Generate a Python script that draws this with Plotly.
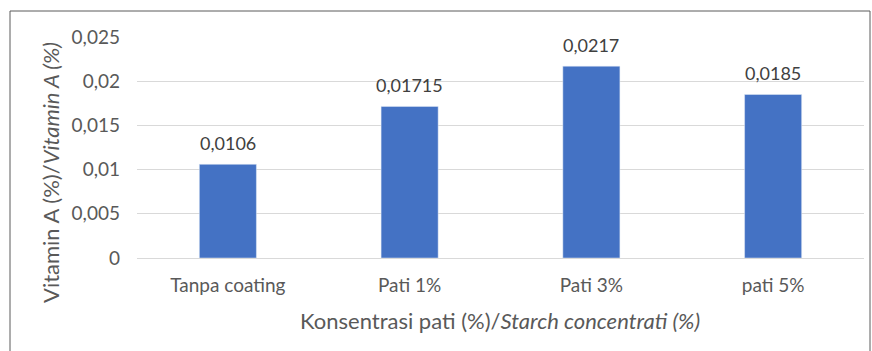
import plotly.graph_objects as go

categories = ["Tanpa coating", "Pati 1%", "Pati 3%", "pati 5%"]
vitamin_a = [0.0106, 0.01715, 0.0217, 0.0185]
tick_vals = [0, 0.005, 0.01, 0.015, 0.02, 0.025]
tick_text = ["0", "0,005", "0,01", "0,015", "0,02", "0,025"]
value_labels = [str(v).replace(".", ",") for v in vitamin_a]

W, H = 872, 351
ML, MR, MT, MB = 137, 8, 37, 93
pw = W - ML - MR
ph = H - MT - MB

def px_x(p):
    return (p - ML) / pw

def px_y(p):
    return (H - MB - p) / ph

font_family = "Lato, sans-serif"
grey = "#595959"

fig = go.Figure(
    go.Bar(
        x=categories,
        y=vitamin_a,
        marker=dict(color="#4472C4"),
        hoverinfo="x+y",
    )
)

# value labels above each bar
for cat, val, lab in zip(categories, vitamin_a, value_labels):
    fig.add_annotation(
        x=cat, y=val, text=lab, showarrow=False,
        yanchor="middle", yshift=21,
        font=dict(size=18, color="#404040", family=font_family),
    )

# axis titles
fig.add_annotation(
    xref="paper", yref="paper", x=px_x(500), y=px_y(320),
    xanchor="center", yanchor="middle", showarrow=False,
    text="Konsentrasi pati (%)/<i>Starch concentrati (%)</i>",
    font=dict(size=22, color=grey, family=font_family),
)
fig.add_annotation(
    xref="paper", yref="paper", x=px_x(50), y=px_y(173),
    xanchor="center", yanchor="middle", showarrow=False, textangle=-90,
    text="Vitamin A (%)/<i>Vitamin A (%)</i>",
    font=dict(size=22, color=grey, family=font_family),
)

fig.update_layout(
    width=W,
    height=H,
    margin=dict(l=ML, r=MR, t=MT, b=MB),
    paper_bgcolor="white",
    plot_bgcolor="white",
    bargap=0.686,
    showlegend=False,
    font=dict(family=font_family, color=grey, size=18),
    shapes=[
        dict(
            type="rect", xref="paper", yref="paper",
            x0=px_x(10), x1=px_x(870), y0=px_y(400), y1=px_y(11),
            line=dict(color="#5a5a5a", width=1), fillcolor="rgba(0,0,0,0)",
            layer="below",
        )
    ],
)

fig.update_xaxes(
    showgrid=False,
    showline=True,
    linecolor="#d9d9d9",
    ticks="",
    ticklabelstandoff=10,
    tickfont=dict(size=19, color=grey),
)

fig.update_yaxes(
    range=[0, 0.025],
    tickvals=tick_vals,
    ticktext=tick_text,
    showgrid=True,
    gridcolor="#d9d9d9",
    zeroline=False,
    ticks="",
    ticklabelstandoff=16,
    tickfont=dict(size=19, color=grey),
)

fig.write_html("out.html")
